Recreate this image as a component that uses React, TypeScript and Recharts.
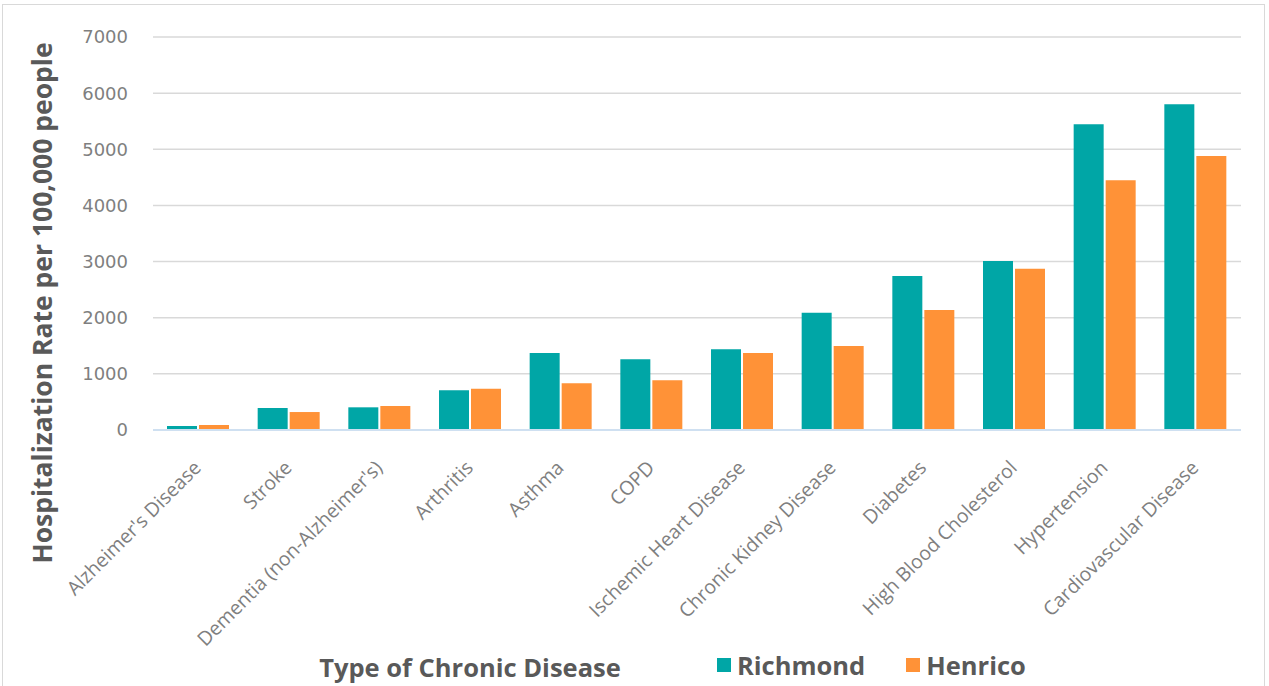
import { BarChart, Bar, XAxis, YAxis, CartesianGrid, Legend } from 'recharts';

const diseases = [
  "Alzheimer's Disease",
  'Stroke',
  "Dementia (non-Alzheimer's)",
  'Arthritis',
  'Asthma',
  'COPD',
  'Ischemic Heart Disease',
  'Chronic Kidney Disease',
  'Diabetes',
  'High Blood Cholesterol',
  'Hypertension',
  'Cardiovascular Disease',
];
const richmond = [71, 392, 404, 707, 1371, 1259, 1437, 2090, 2745, 3010, 5445, 5801];
const henrico = [89, 320, 427, 736, 831, 885, 1371, 1496, 2137, 2873, 4447, 4880];
const yTicks = [0, 1000, 2000, 3000, 4000, 5000, 6000, 7000];

const data = diseases.map((name, i) => ({
  name,
  Richmond: richmond[i],
  Henrico: henrico[i],
}));

const TEAL = '#00A6A6';
const ORANGE = '#FF9237';
const FONT = '"Open Sans", sans-serif';

function XTick(props: any) {
  const { x, y, payload } = props;
  return (
    <text
      x={x + 4}
      y={y + 31}
      transform={`rotate(-45, ${x + 4}, ${y + 31})`}
      textAnchor="end"
      fill="#7f7f7f"
      fontSize={19.5}
      fontFamily={FONT}
    >
      {payload.value}
    </text>
  );
}

function LegendContent() {
  const items = [
    { label: 'Richmond', color: TEAL },
    { label: 'Henrico', color: ORANGE },
  ];
  return (
    <div style={{ display: 'flex', alignItems: 'center', fontFamily: FONT }}>
      {items.map((it) => (
        <div key={it.label} style={{ display: 'flex', alignItems: 'center', marginRight: 41 }}>
          <span style={{ width: 14, height: 14, background: it.color, marginRight: 6 }} />
          <span style={{ fontSize: 25.5, fontWeight: 700, color: '#595959' }}>{it.label}</span>
        </div>
      ))}
    </div>
  );
}

export default function App() {
  return (
    <div
      style={{
        position: 'absolute',
        left: 0,
        top: 0,
        width: 1269,
        height: 686,
        background: '#fff',
        overflow: 'hidden',
      }}
    >
      <div
        style={{
          position: 'absolute',
          left: 2,
          top: 4,
          width: 1263,
          height: 690,
          border: '1px solid #d9d9d9',
          boxSizing: 'border-box',
        }}
      />
      <BarChart
        width={1269}
        height={686}
        data={data}
        margin={{ top: 37, right: 28, left: 0, bottom: 0 }}
        barSize={30}
        barGap={2}
      >
        <CartesianGrid vertical={false} stroke="#d9d9d9" strokeWidth={1.5} />
        <XAxis
          dataKey="name"
          height={256}
          interval={0}
          tickLine={false}
          axisLine={{ stroke: '#cfe0f1', strokeWidth: 2 }}
          tick={<XTick />}
          label={{
            content: () => (
              <text
                x={470}
                y={677}
                textAnchor="middle"
                fill="#595959"
                fontSize={25.5}
                fontWeight={700}
                fontFamily={FONT}
              >
                Type of Chronic Disease
              </text>
            ),
          }}
        />
        <YAxis
          width={153}
          domain={[0, 7000]}
          ticks={yTicks}
          interval={0}
          tickLine={false}
          axisLine={false}
          tickSize={0}
          tickMargin={25}
          tick={{ fill: '#7f7f7f', fontSize: 18, fontFamily: '"DejaVu Sans", sans-serif' }}
          label={{
            content: () => (
              <text
                x={52}
                y={303}
                transform="rotate(-90, 52, 303)"
                textAnchor="middle"
                fill="#595959"
                fontSize={26.5}
                fontWeight={700}
                fontFamily={FONT}
              >
                Hospitalization Rate per 100,000 people
              </text>
            ),
          }}
        />
        <Legend
          layout="horizontal"
          verticalAlign="middle"
          align="center"
          content={<LegendContent />}
          wrapperStyle={{ left: 717, top: 648, width: 400 }}
        />
        <Bar dataKey="Richmond" fill={TEAL} isAnimationActive={false} />
        <Bar dataKey="Henrico" fill={ORANGE} isAnimationActive={false} />
      </BarChart>
    </div>
  );
}
